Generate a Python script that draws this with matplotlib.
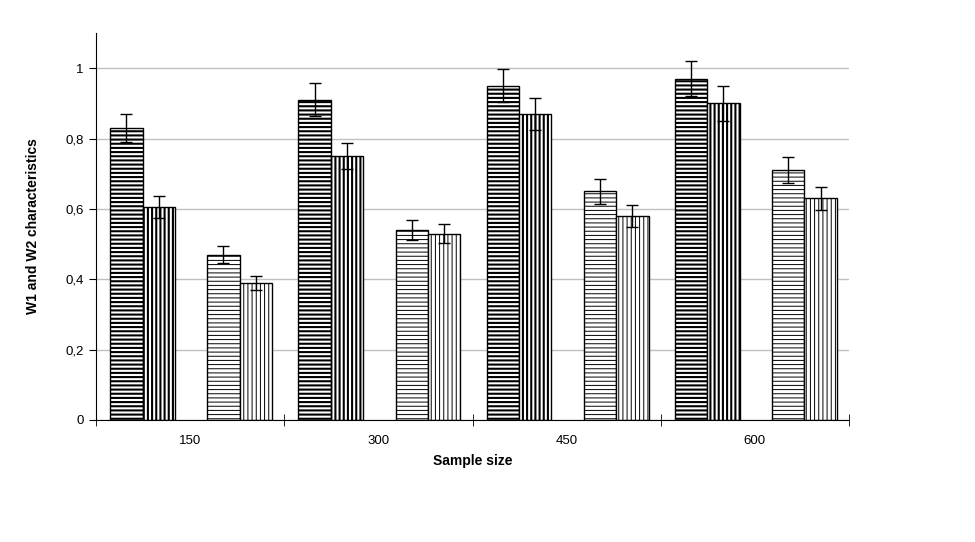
"""Grouped bar chart of W1/W2 characteristics against sample size."""

import matplotlib

matplotlib.use("Agg")
import matplotlib.pyplot as plt
import numpy as np

sample_sizes = ["150", "300", "450", "600"]

# four series per group; the fifth slot in the middle stays empty
s1_values = [0.83, 0.91, 0.95, 0.97]
s1_errors = [0.04, 0.047, 0.047, 0.05]
s2_values = [0.605, 0.75, 0.87, 0.90]
s2_errors = [0.032, 0.037, 0.045, 0.05]
s3_values = [0.47, 0.54, 0.65, 0.71]
s3_errors = [0.024, 0.028, 0.035, 0.037]
s4_values = [0.39, 0.53, 0.58, 0.63]
s4_errors = [0.02, 0.026, 0.032, 0.032]

y_ticks = [0, 0.2, 0.4, 0.6, 0.8, 1.0]
y_tick_labels = ["0", "0,2", "0,4", "0,6", "0,8", "1"]

plt.rcParams["font.family"] = ["Liberation Sans", "DejaVu Sans"]

fig = plt.figure(figsize=(9.75, 5.42), dpi=100)
ax = fig.add_axes([0.0985, 0.2251, 0.7723, 0.7139])

x = np.arange(len(sample_sizes))
bar_w = 0.172
slots = [-2, -1, 1, 2]
series = [
    (s1_values, s1_errors, "----", 1.5),
    (s2_values, s2_errors, "||||", 1.5),
    (s3_values, s3_errors, "----", 0.7),
    (s4_values, s4_errors, "||||", 0.7),
]

for slot, (vals, errs, hatch, hlw) in zip(slots, series):
    pos = x + slot * bar_w + 0.005
    bars = ax.bar(
        pos,
        vals,
        width=bar_w,
        color="white",
        edgecolor="black",
        linewidth=1.0,
        hatch=hatch,
        zorder=2,
    )
    for b in bars:
        b.set_hatch_linewidth(hlw)
    ax.errorbar(
        pos,
        vals,
        yerr=errs,
        fmt="none",
        ecolor="black",
        elinewidth=1.0,
        capsize=4,
        capthick=1.0,
        zorder=3,
    )

ax.set_xlim(-0.5, len(sample_sizes) - 0.5)
ax.set_ylim(0, 1.1)
ax.set_yticks(y_ticks)
ax.set_yticklabels(y_tick_labels)
ax.yaxis.grid(True, color="#c0c0c0", linewidth=1.0, zorder=0)
ax.set_axisbelow(True)

ax.set_xticks(x)
ax.set_xticklabels(sample_sizes)
ax.tick_params(axis="x", length=0, labelsize=9.5, pad=11)
ax.set_xticks(np.arange(len(sample_sizes) + 1) - 0.5, minor=True)
ax.tick_params(axis="x", which="minor", direction="inout", length=8)
ax.tick_params(axis="y", direction="out", length=5, labelsize=9.5, pad=4)

for side in ("top", "right"):
    ax.spines[side].set_visible(False)

ax.set_xlabel("Sample size", fontsize=10, fontweight="bold", labelpad=5)
ax.set_ylabel("W1 and W2 characteristics", fontsize=10, fontweight="bold", labelpad=18)

fig.savefig("out.png", dpi=100)
